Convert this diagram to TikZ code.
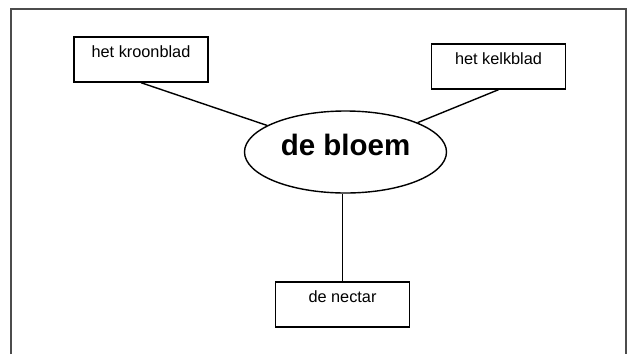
\documentclass[tikz,border=0pt]{standalone}
\usepackage{fontspec}
\setmainfont{Liberation Sans}
\usetikzlibrary{shapes.geometric}

\begin{document}
\begin{tikzpicture}[x=1pt,y=-1pt,
    part/.style={draw,line width=1.4pt,rectangle,minimum width=134pt,inner sep=4pt,
        text height=16pt,text depth=21pt,font=\fontsize{16.3}{19}\selectfont},
    centre/.style={draw,line width=1.4pt,ellipse,minimum width=202pt,minimum height=82pt,
        inner sep=0pt,text depth=15.1pt,font=\fontsize{29.5}{33}\selectfont\bfseries},
    link/.style={line width=1.4pt}]
    \useasboundingbox (0,0) rectangle (635,354);
    % frame
    \draw[line width=1.5pt,black!70] (11,354)--(11,9)--(626,9)--(626,354);
    % the flower and its parts
    \node[centre] (bloem) at (345.5,152) {de bloem};
    \node[part] (kroon) at (141,59.5) {het kroonblad};
    \node[part] (kelk) at (498.5,66.5) {het kelkblad};
    \node[part] (nectar) at (342.5,304.5) {de nectar};
    \draw[link] (kroon.south)--(bloem);
    \draw[link] (kelk.south)--(bloem);
    \draw[link] (nectar.north)--(nectar.north |- bloem.south);
\end{tikzpicture}
\end{document}
